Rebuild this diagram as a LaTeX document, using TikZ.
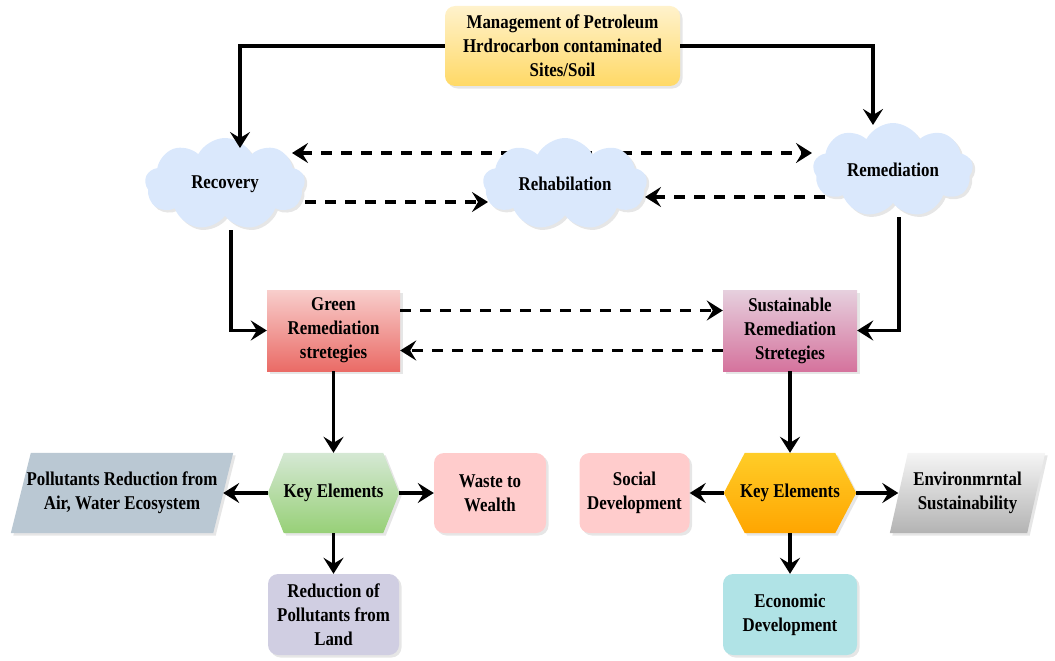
\documentclass[tikz,border=0pt]{standalone}
\usepackage{fontspec}
\setmainfont{Liberation Serif}[FakeStretch=0.865]
\usetikzlibrary{shapes.symbols,shadows,arrows.meta,backgrounds,calc}
\definecolor{topT}{HTML}{FFF2CC}
\definecolor{topB}{HTML}{FFD966}
\definecolor{cloudC}{HTML}{DAE8FC}
\definecolor{grnT}{HTML}{F8CECC}
\definecolor{grnB}{HTML}{EA6B66}
\definecolor{susT}{HTML}{E6D0DE}
\definecolor{susB}{HTML}{D5739D}
\definecolor{hlT}{HTML}{D5E8D4}
\definecolor{hlB}{HTML}{97D077}
\definecolor{hrT}{HTML}{FFCD28}
\definecolor{hrB}{HTML}{FFA500}
\definecolor{polC}{HTML}{BAC8D3}
\definecolor{wasteC}{HTML}{FFCCCC}
\definecolor{redC}{HTML}{D0CEE2}
\definecolor{socC}{HTML}{FFCCCC}
\definecolor{envT}{HTML}{F5F5F5}
\definecolor{envB}{HTML}{B3B3B3}
\definecolor{ecoC}{HTML}{B0E3E6}
\begin{document}
\begin{tikzpicture}[x=1pt,y=-1pt,
  ah/.tip={Stealth[length=16pt,width=20pt,inset=6pt]},
  txt/.style={font=\fontsize{19.5}{24}\selectfont\bfseries, align=center, inner sep=0pt, text=black},
  shd/.style={drop shadow={opacity=0.2, shadow xshift=2.5pt, shadow yshift=-2.5pt}},
  sq/.style={txt, rectangle, shd},
  rsq/.style={txt, rectangle, rounded corners=10pt, shd},
  cld/.style={txt, cloud, cloud puffs=9, cloud puff arc=125, cloud ignores aspect, fill=cloudC, shd},
  holder/.style={txt, rectangle},
  conn/.style={line width=3.3pt, -ah},
  dconn/.style={conn, dash pattern=on 11pt off 9pt},
]
\useasboundingbox (0,0) rectangle (1055,661);

\node[sq, rounded corners=10pt, top color=topT, bottom color=topB, minimum width=235pt, minimum height=80pt] (top) at (562.5,46) {Management of Petroleum\\Hrdrocarbon contaminated\\Sites/Soil};

\node[cld, minimum width=160pt, minimum height=92pt] (rec) at (225,184) {Recovery};
\node[cld, minimum width=164pt, minimum height=92pt] (reh) at (565,184) {Rehabilation};
\node[cld, minimum width=160pt, minimum height=94pt] (rem) at (893,170) {Remediation};

\node[sq, top color=grnT, bottom color=grnB, minimum width=133pt, minimum height=81pt] (grn) at (333.5,330.5) {Green\\Remediation\\stretegies};
\node[sq, top color=susT, bottom color=susB, minimum width=134pt, minimum height=81pt] (sus) at (790,330.5) {Sustainable\\Remediation\\Stretegies};

\node[holder, minimum width=131pt, minimum height=80pt] (kl) at (333.5,493) {Key Elements};
\node[holder, minimum width=132pt, minimum height=80pt] (kr) at (790,493) {Key Elements};
\node[holder, minimum width=222pt, minimum height=80pt] (pol) at (122,493) {Pollutants Reduction from\\Air, Water Ecosystem};
\node[rsq, fill=wasteC, minimum width=112pt, minimum height=80pt] (wst) at (490,493) {Waste to\\Wealth};
\node[rsq, fill=redC, minimum width=131pt, minimum height=81pt] (red) at (333.5,614.5) {Reduction of\\Pollutants from\\Land};
\node[rsq, fill=socC, minimum width=110pt, minimum height=80pt] (soc) at (634.5,493) {Social\\Development};
\node[holder, minimum width=155pt, minimum height=80pt] (env) at (967.5,493) {Environmrntal\\Sustainability};
\node[rsq, fill=ecoC, minimum width=134pt, minimum height=81pt] (eco) at (790,614.5) {Economic\\Development};

\begin{scope}[on background layer]
  \path[shd, top color=hlT, bottom color=hlB] (kl.west) -- ([xshift=16pt]kl.north west) -- ([xshift=-16pt]kl.north east) -- (kl.east) -- ([xshift=-16pt]kl.south east) -- ([xshift=16pt]kl.south west) -- cycle;
  \path[shd, top color=hrT, bottom color=hrB] (kr.west) -- ([xshift=21pt]kr.north west) -- ([xshift=-21pt]kr.north east) -- (kr.east) -- ([xshift=-21pt]kr.south east) -- ([xshift=21pt]kr.south west) -- cycle;
  \path[shd, fill=polC] (pol.south west) -- ([xshift=20pt]pol.north west) -- (pol.north east) -- ([xshift=-20pt]pol.south east) -- cycle;
  \path[shd, top color=envT, bottom color=envB] (env.south west) -- ([xshift=18pt]env.north west) -- (env.north east) -- ([xshift=-18pt]env.south east) -- cycle;
  \draw[dconn, ah-ah] ([shift={(67pt,31pt)}]rec.center) -- ([shift={(-81pt,17pt)}]rem.center);
\end{scope}

\draw[conn] (top.west) -| ([shift={(15pt,36pt)}]rec.center);
\draw[conn] (top.east) -| ([shift={(-20pt,45pt)}]rem.center);

\draw[dconn] ([shift={(80pt,-18pt)}]rec.center) -- ([shift={(-77pt,-18pt)}]reh.center);
\draw[dconn] ([shift={(-68pt,-27pt)}]rem.center) -- ([shift={(80pt,-13pt)}]reh.center);

\draw[conn] ([shift={(6pt,-46pt)}]rec.center) |- (grn.west);
\draw[conn] ([shift={(6pt,-47pt)}]rem.center) |- (sus.east);

\draw[dconn] ([yshift=20pt]grn.east) -- ([yshift=20pt]sus.west);
\draw[dconn] ([yshift=-20pt]sus.west) -- ([yshift=-20pt]grn.east);

\draw[conn] (grn.south) -- (kl.north);
\draw[conn] (kl.west) -- ([xshift=-10pt]pol.east);
\draw[conn] (kl.east) -- (wst.west);
\draw[conn] (kl.south) -- (red.north);
\draw[conn] (sus.south) -- (kr.north);
\draw[conn] (kr.west) -- (soc.east);
\draw[conn] (kr.east) -- ([xshift=8.5pt]env.west);
\draw[conn] (kr.south) -- (eco.north);
\end{tikzpicture}
\end{document}
